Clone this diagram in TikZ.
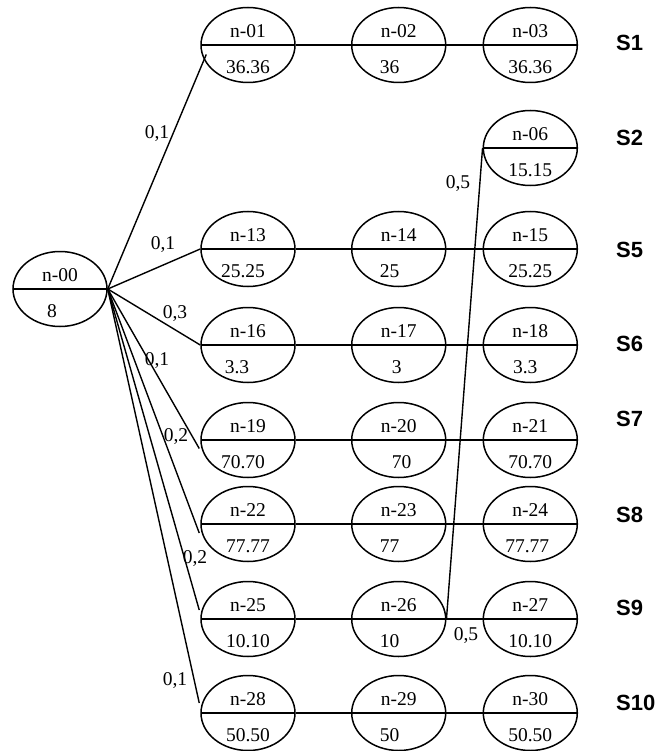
\documentclass[tikz,border=0pt]{standalone}
\usepackage{fontspec}
\setmainfont{Liberation Serif}
\newfontfamily\seqfont{Liberation Sans}
\usetikzlibrary{shapes.geometric}

\begin{document}
\begin{tikzpicture}[
  x=1pt, y=-1pt,
  font=\fontsize{19.5}{22}\selectfont,
  cell/.style={ellipse, draw, line width=1.5pt, minimum width=94pt, minimum height=75pt,
               inner sep=0pt,
               path picture={\draw[line width=1.5pt] (path picture bounding box.west)
                             -- (path picture bounding box.east);}},
  ctxt/.style={inner sep=0pt},
  cn/.style={line width=1.4pt},
  lab/.style={inner sep=0pt},
  seq/.style={font=\seqfont\bfseries\fontsize{22}{25}\selectfont, inner sep=0pt, anchor=west}
]
\useasboundingbox (0,0) rectangle (662,751);
% ----- states: name / x / y / upper / lower / shift of lower -----
\foreach \n/\x/\y/\up/\dn/\dx in {
  n00/60/289/n-00/8/-8,
  n01/248/45/n-01/36.36/0, n02/398.7/45/n-02/36/-9, n03/530.3/45/n-03/36.36/0,
  n06/530.3/148/n-06/15.15/0,
  n13/248/249/n-13/25.25/-5, n14/398.7/249/n-14/25/-9, n15/530.3/249/n-15/25.25/0,
  n16/248/345/n-16/3.3/-11, n17/398.7/345/n-17/3/-2, n18/530.3/345/n-18/3.3/-5,
  n19/248/440/n-19/70.70/-5, n20/398.7/440/n-20/70/3, n21/530.3/440/n-21/70.70/0,
  n22/248/524/n-22/77.77/0, n23/398.7/524/n-23/77/-9, n24/530.3/524/n-24/77.77/-3,
  n25/248/619/n-25/10.10/0, n26/398.7/619/n-26/10/-9, n27/530.3/619/n-27/10.10/0,
  n28/248/713/n-28/50.50/0, n29/398.7/713/n-29/50/-9, n30/530.3/713/n-30/50.50/0}{
  \node[cell] (\n) at (\x,\y) {};
  \node[ctxt] (\n-up) at ([yshift=14pt]\n.center) {\up};
  \node[ctxt] (\n-dn) at ([xshift=\dx pt, yshift=-22pt]\n.center) {\dn};
}
% ----- chains along each row -----
\foreach \a/\b in {n01/n02, n02/n03, n13/n14, n14/n15, n16/n17, n17/n18, n19/n20, n20/n21,
                   n22/n23, n23/n24, n25/n26, n26/n27, n28/n29, n29/n30}{\draw[cn] (\a.east) -- (\b.west);}
\draw[cn] (n26.east) -- (n06.west);
% ----- branches out of n-00 -----
\draw[cn] (n00.east) -- ([xshift=6pt, yshift=-9.5pt]n01.west);
\draw[cn] (n00.east) -- (n13.west);
\draw[cn] (n00.east) -- (n16.west);
\draw[cn] (n00.east) -- ([xshift=-1pt, yshift=-8.5pt]n19.west);
\draw[cn] (n00.east) -- ([xshift=-1pt, yshift=-9pt]n22.west);
\draw[cn] (n00.east) -- ([xshift=-1pt, yshift=9pt]n25.west);
\draw[cn] (n00.east) -- ([xshift=-1pt, yshift=10pt]n28.west);
% ----- probabilities -----
\node[lab] (p01) at (157,134) {0,1};
\node[lab] (p13) at (163,245) {0,1};
\node[lab] (p16) at (175,314) {0,3};
\node[lab] (p19) at (157,361) {0,1};
\node[lab] (p22) at (176,437) {0,2};
\node[lab] (p25) at (195,559) {0,2};
\node[lab] (p28) at (175,681) {0,1};
\node[lab] (p06) at (458,184) {0,5};
\node[lab] (p27) at (466,636) {0,5};
% ----- sequence names -----
\node[seq] (s1)  at (616,42.5)  {S1};
\node[seq] (s2)  at (616,137.5) {S2};
\node[seq] (s5)  at (616,250)   {S5};
\node[seq] (s6)  at (616,343.5) {S6};
\node[seq] (s7)  at (616,418.5) {S7};
\node[seq] (s8)  at (616,515)   {S8};
\node[seq] (s9)  at (616,607.5) {S9};
\node[seq] (s10) at (616,702.5) {S10};
\end{tikzpicture}
\end{document}
